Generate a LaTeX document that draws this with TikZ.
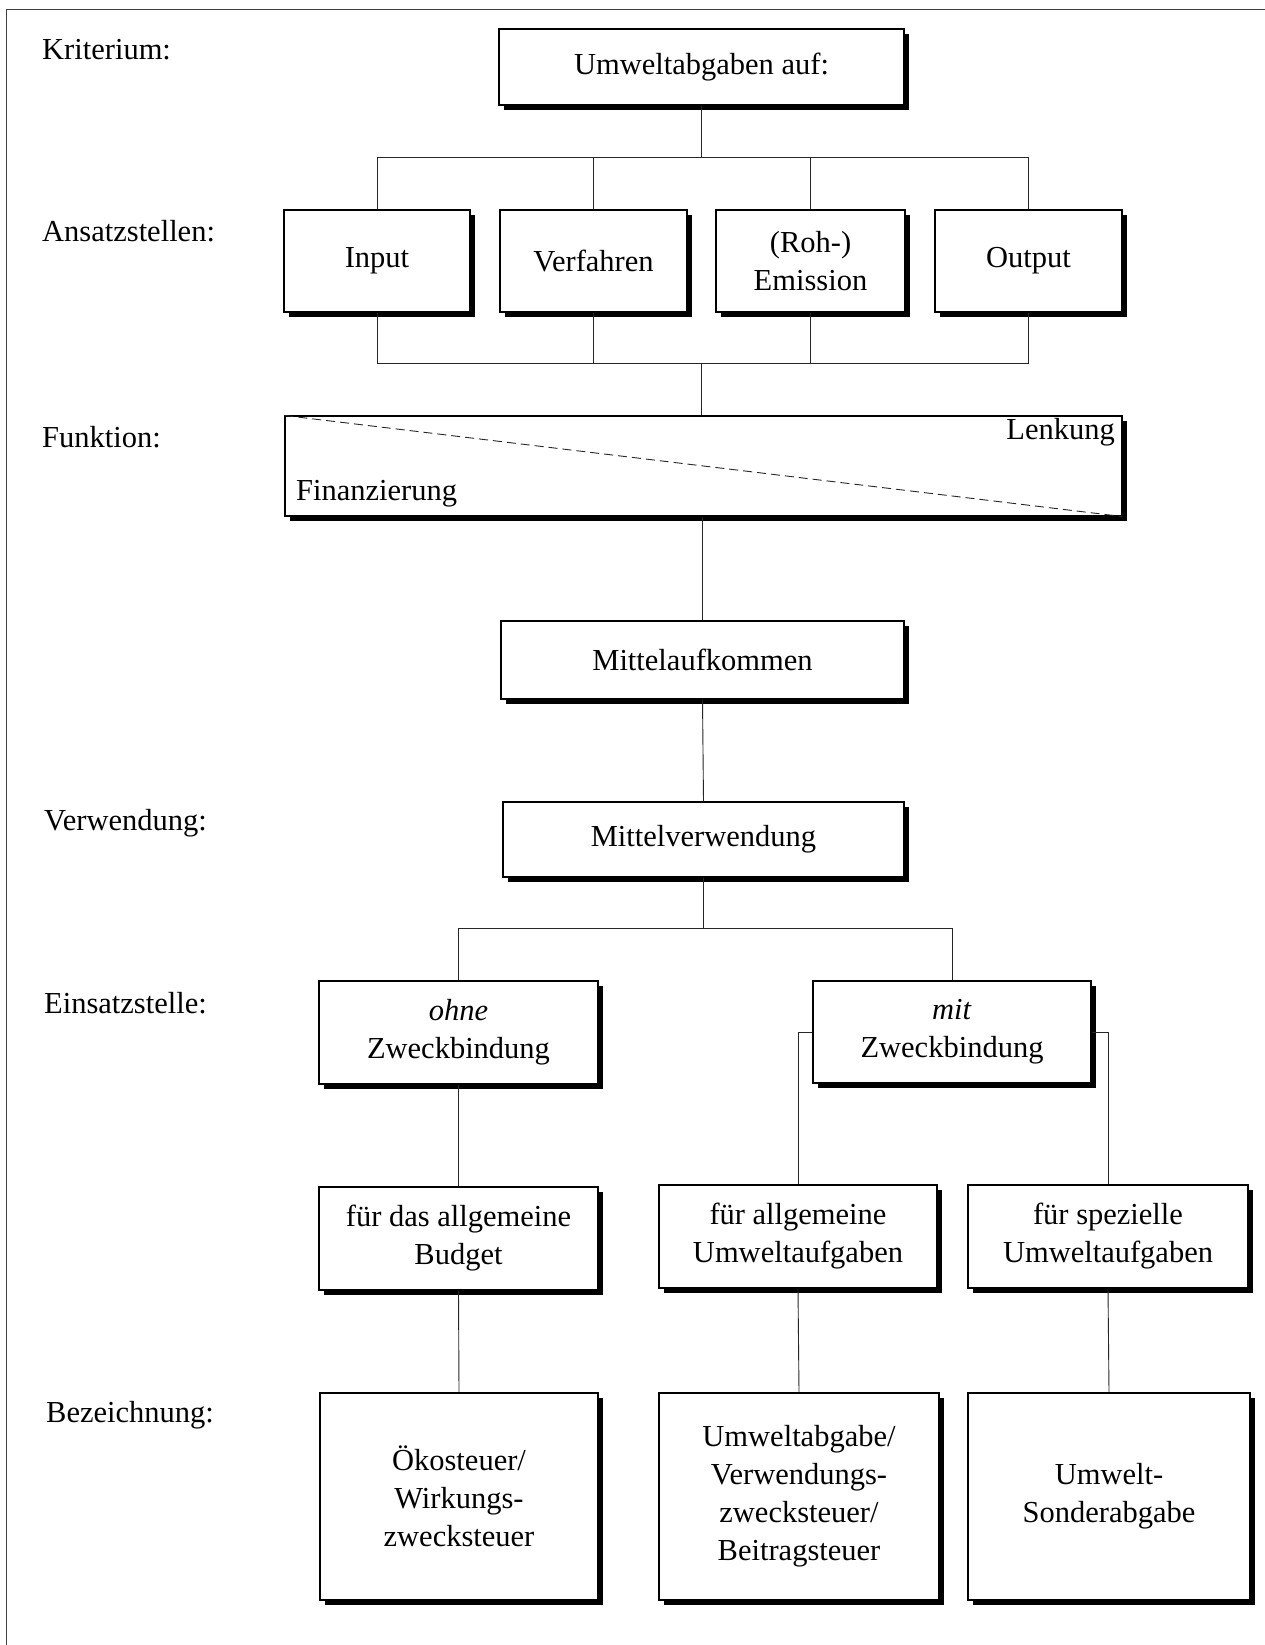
\documentclass[tikz,border=0pt]{standalone}
\usepackage{fontspec}
\setmainfont{Liberation Serif}
\usetikzlibrary{shadows}
\begin{document}
\begin{tikzpicture}[x=1pt,y=-1pt,
 box/.style={draw=black, line width=1.1pt, fill=white, align=center, inner sep=0pt,
   font=\fontsize{30.5}{38}\selectfont,
   drop shadow={shadow xshift=5pt, shadow yshift=-5pt, fill=black, opacity=1}},
 conn/.style={draw=black!85, line width=0.9pt},
 frame/.style={draw=black!75, line width=0.9pt},
 lbl/.style={anchor=west, inner sep=0pt, font=\fontsize{30.5}{36}\selectfont},
 inlbl/.style={inner sep=0pt, font=\fontsize{30.5}{36}\selectfont}]
\useasboundingbox (0,0) rectangle (1265,1645);
\fill[white] (0,0) rectangle (1265,1645);
% frame
\coordinate (fl) at (6,9);
\coordinate (fr) at (1265,9);
\coordinate (fb) at (6,1645);
\draw[frame] (fr) -- (fl) -- (fb);
% row labels
\node[lbl] (l1) at (42,50) {Kriterium:};
\node[lbl] (l2) at (42,231) {Ansatzstellen:};
\node[lbl] (l3) at (42,437) {Funktion:};
\node[lbl] (l4) at (44,823) {Verwendung:};
\node[lbl] (l5) at (44,1003) {Einsatzstelle:};
\node[lbl] (l6) at (46,1415) {Bezeichnung:};
% boxes
\node[box, minimum width=405pt, minimum height=76pt] (top) at (701.5,67) {Umweltabgaben auf:};
\node[box, minimum width=186pt, minimum height=102pt] (input) at (377,261) {Input};
\node[box, minimum width=187pt, minimum height=102pt] (verf) at (593.5,261) {Verfahren};
\node[box, minimum width=189pt, minimum height=102pt] (emis) at (810.5,261) {(Roh-)\\Emission};
\node[box, minimum width=187pt, minimum height=102pt] (output) at (1028.5,261) {Output};
\node[box, minimum width=837pt, minimum height=100pt] (funk) at (703.5,466) {};
\node[box, minimum width=403pt, minimum height=78pt] (mauf) at (702.5,660) {Mittelaufkommen};
\node[box, minimum width=401pt, minimum height=75pt] (mverw) at (703.5,839.5) {Mittelverwendung};
\node[box, minimum width=279pt, minimum height=103pt] (ohne) at (458.5,1032.5) {\textit{ohne}\\Zweckbindung};
\node[box, minimum width=278pt, minimum height=102pt] (mit) at (952,1032) {\textit{mit}\\Zweckbindung};
\node[box, minimum width=279pt, minimum height=103pt] (budget) at (458.5,1238.5) {für das allgemeine\\Budget};
\node[box, minimum width=278pt, minimum height=103pt] (allg) at (798,1236.5) {für allgemeine\\Umweltaufgaben};
\node[box, minimum width=280pt, minimum height=103pt] (spez) at (1108,1236.5) {für spezielle\\Umweltaufgaben};
\node[box, minimum width=278pt, minimum height=207pt] (oeko) at (459,1496.5) {Ökosteuer/\\Wirkungs-\\zwecksteuer};
\node[box, minimum width=280pt, minimum height=207pt] (umw) at (799,1496.5) {Umweltabgabe/\\Verwendungs-\\zwecksteuer/\\Beitragsteuer};
\node[box, minimum width=282pt, minimum height=207pt] (sonder) at (1109,1496.5) {Umwelt-\\Sonderabgabe};
% Funktion contents
\draw[dashed, dash pattern=on 9pt off 5pt, line width=0.9pt, draw=black!85] (funk.north west) -- (funk.south east);
\node[inlbl, anchor=east] (lenk) at (1115,432) {Lenkung};
\node[inlbl, anchor=west] (finz) at (296,494) {Finanzierung};
% connectors
\coordinate (b1) at (701.5,157);
\coordinate (b2) at (701.5,363);
\coordinate (b3) at (703.5,928);
\draw[conn] (top.south) -- (b1);
\draw[conn] (input.north) -- (input.north |- b1) -- (output.north |- b1) -- (output.north);
\draw[conn] (verf.north) -- (verf.north |- b1);
\draw[conn] (emis.north) -- (emis.north |- b1);
\draw[conn] (input.south) -- (input.south |- b2) -- (output.south |- b2) -- (output.south);
\draw[conn] (verf.south) -- (verf.south |- b2);
\draw[conn] (emis.south) -- (emis.south |- b2);
\draw[conn] (b2) -- (b2 |- funk.north);
\draw[conn] (mauf.north |- funk.south) -- (mauf.north);
\draw[conn] (mauf.south) -- (mverw.north);
\draw[conn] (mverw.south) -- (b3);
\draw[conn] (ohne.north) -- (ohne.north |- b3) -- (mit.north |- b3) -- (mit.north);
\draw[conn] (mit.west) -| (allg.north);
\draw[conn] (mit.east) -| (spez.north);
\draw[conn] (ohne.south) -- (budget.north);
\draw[conn] (budget.south) -- (oeko.north);
\draw[conn] (allg.south) -- (umw.north);
\draw[conn] (spez.south) -- (sonder.north);
\end{tikzpicture}
\end{document}
